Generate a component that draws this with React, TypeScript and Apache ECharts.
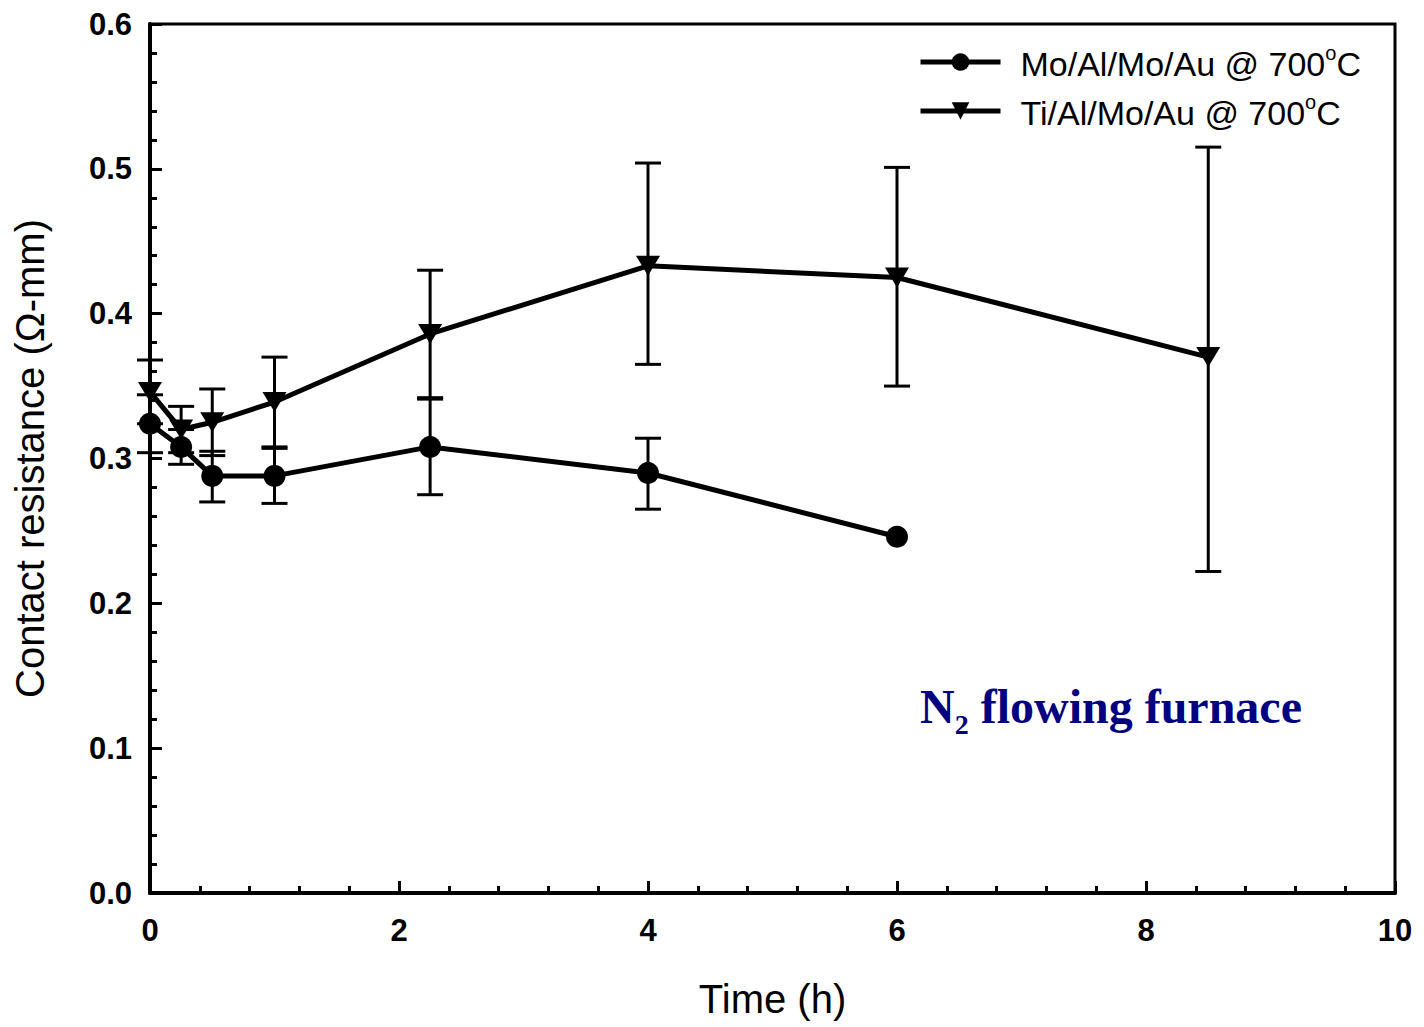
import React, { useEffect, useRef } from "react";
import * as echarts from "echarts";

// ---- data ----
const moTime = [0, 0.25, 0.5, 1, 2.25, 4, 6];
const moR = [0.324, 0.308, 0.288, 0.288, 0.308, 0.29, 0.246];
const moLow = [0.304, 0.296, 0.27, 0.269, 0.275, 0.265, null];
const moHigh = [0.344, 0.32, 0.305, 0.307, 0.341, 0.314, null];

const tiTime = [0, 0.25, 0.5, 1, 2.25, 4, 6, 8.5];
const tiR = [0.346, 0.32, 0.325, 0.339, 0.386, 0.433, 0.425, 0.37];
const tiLow = [0.324, 0.304, 0.302, 0.308, 0.342, 0.365, 0.35, 0.222];
const tiHigh = [0.368, 0.336, 0.348, 0.37, 0.43, 0.504, 0.501, 0.515];

const seriesNames = ["Mo/Al/Mo/Au @ 700°C", "Ti/Al/Mo/Au @ 700°C"];
const xTicks = { min: 0, max: 10, interval: 2 };
const yTicks = { min: 0, max: 0.6, interval: 0.1 };
const yAxisTitle = "Contact resistance (Ω-mm)";
const xAxisTitle = "Time (h)";

const SANS = "'Liberation Sans', Arial, Helvetica, sans-serif";
const SERIF = "'Liberation Serif', 'Times New Roman', serif";

function errData(t: number[], lo: (number | null)[], hi: (number | null)[]) {
  const out: any[] = [];
  t.forEach((x, i) => {
    if (lo[i] != null && hi[i] != null) out.push([x, lo[i], hi[i]]);
  });
  return out;
}

function errorRender(params: any, api: any) {
  const x = api.value(0);
  const lo = api.coord([x, api.value(1)]);
  const hi = api.coord([x, api.value(2)]);
  const half = 13;
  const st = { stroke: "#000", lineWidth: 3 };
  return {
    type: "group",
    children: [
      { type: "line", shape: { x1: lo[0], y1: lo[1], x2: hi[0], y2: hi[1] }, style: st },
      { type: "line", shape: { x1: lo[0] - half, y1: lo[1], x2: lo[0] + half, y2: lo[1] }, style: st },
      { type: "line", shape: { x1: hi[0] - half, y1: hi[1], x2: hi[0] + half, y2: hi[1] }, style: st },
    ],
  };
}

export default function App() {
  const ref = useRef<HTMLDivElement>(null);
  useEffect(() => {
    if (!ref.current) return;
    document.body.style.margin = "0";
    const chart = echarts.init(ref.current, null, { renderer: "svg" });
    const option: any = {
      animation: false,
      backgroundColor: "#fff",
      grid: {
        left: 150,
        right: 29,
        top: 24,
        bottom: 134,
        containLabel: false,
        outerBoundsMode: "none",
        show: true,
        borderColor: "#000",
        borderWidth: 3,
        backgroundColor: "transparent",
      },
      legend: {
        orient: "vertical",
        left: 913,
        top: 38,
        itemWidth: 80,
        itemHeight: 22,
        itemGap: 11,
        data: seriesNames,
        lineStyle: { width: 5 },
        formatter: (name: string) => {
          const parts = name.split("°");
          return `{a|${parts[0]}}{s|o}{a|${parts[1]}}`;
        },
        textStyle: {
          color: "#000",
          fontFamily: SANS,
          fontSize: 34,
          padding: [0, 0, 0, 15],
          rich: {
            a: { fontFamily: SANS, fontSize: 34, color: "#000", lineHeight: 38, verticalAlign: "bottom" },
            s: { fontFamily: SANS, fontSize: 20, color: "#000", lineHeight: 22, verticalAlign: "top" },
          },
        },
      },
      xAxis: {
        type: "value",
        min: xTicks.min,
        max: xTicks.max,
        interval: xTicks.interval,
        name: xAxisTitle,
        nameLocation: "middle",
        nameGap: 86,
        nameTextStyle: { fontFamily: SANS, fontSize: 40, color: "#000" },
        axisLine: { show: true, onZero: false, lineStyle: { color: "#000", width: 4 } },
        axisTick: { show: true, inside: true, length: 12, lineStyle: { color: "#000", width: 3 } },
        minorTick: { show: true, splitNumber: 5, length: 7, lineStyle: { color: "#000", width: 3 } },
        splitLine: { show: false },
        axisLabel: {
          margin: 22,
          fontFamily: SANS,
          fontWeight: "bold",
          fontSize: 31,
          color: "#000",
        },
      },
      yAxis: {
        type: "value",
        min: yTicks.min,
        max: yTicks.max,
        interval: yTicks.interval,
        name: yAxisTitle,
        nameLocation: "middle",
        nameGap: 100,
        nameTextStyle: { fontFamily: SANS, fontSize: 40, color: "#000" },
        axisLine: { show: true, onZero: false, lineStyle: { color: "#000", width: 4 } },
        axisTick: { show: true, inside: true, length: 12, lineStyle: { color: "#000", width: 3 } },
        minorTick: { show: true, splitNumber: 5, length: 7, lineStyle: { color: "#000", width: 3 } },
        splitLine: { show: false },
        axisLabel: {
          margin: 18,
          fontFamily: SANS,
          fontWeight: "bold",
          fontSize: 31,
          color: "#000",
          formatter: (v: number) => v.toFixed(1),
        },
      },
      graphic: [
        {
          type: "text",
          left: 920,
          top: 682,
          z: 10,
          style: {
            text: "{m|N}{b|2}{m| flowing furnace}",
            fill: "#000080",
            rich: {
              m: { fontFamily: SERIF, fontWeight: "bold", fontSize: 48, fill: "#000080", color: "#000080", lineHeight: 52, verticalAlign: "top" },
              b: { fontFamily: SERIF, fontWeight: "bold", fontSize: 28, fill: "#000080", color: "#000080", lineHeight: 84, verticalAlign: "middle" },
            },
          },
        },
      ],
      series: [
        {
          type: "custom",
          name: "moErr",
          renderItem: errorRender,
          data: errData(moTime, moLow, moHigh),
          encode: { x: 0, y: [1, 2] },
          z: 2,
          silent: true,
        },
        {
          type: "custom",
          name: "tiErr",
          renderItem: errorRender,
          data: errData(tiTime, tiLow, tiHigh),
          encode: { x: 0, y: [1, 2] },
          z: 2,
          silent: true,
        },
        {
          name: seriesNames[0],
          type: "line",
          data: moTime.map((t, i) => [t, moR[i]]),
          symbol: "circle",
          symbolSize: 22,
          lineStyle: { color: "#000", width: 5 },
          itemStyle: { color: "#000" },
          z: 3,
        },
        {
          name: seriesNames[1],
          type: "line",
          data: tiTime.map((t, i) => [t, tiR[i]]),
          symbol: "triangle",
          symbolRotate: 180,
          symbolSize: [24, 20],
          lineStyle: { color: "#000", width: 5 },
          itemStyle: { color: "#000" },
          z: 3,
        },
      ],
    };
    chart.setOption(option);
    return () => chart.dispose();
  }, []);
  return <div ref={ref} style={{ width: 1424, height: 1027 }} />;
}
